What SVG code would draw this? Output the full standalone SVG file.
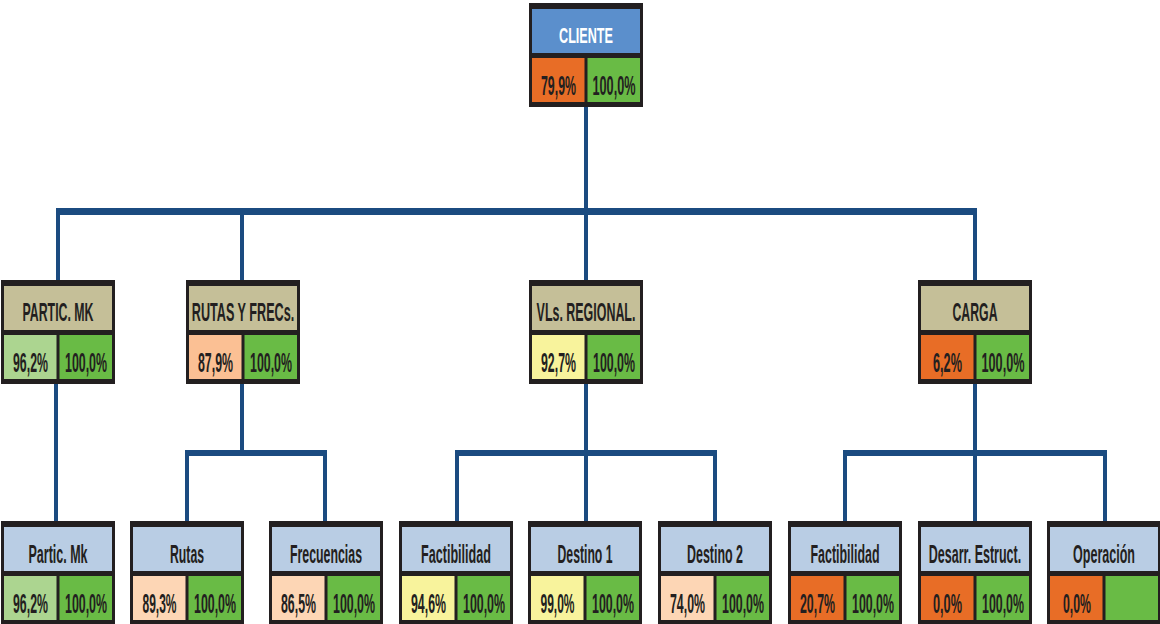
<svg xmlns="http://www.w3.org/2000/svg" width="1160" height="624" viewBox="0 0 1160 624">
<style>
.frame{fill:#231f20}
.hb{fill:#5b8fcc}
.ht{fill:#c5bf98}
.hl{fill:#b9cde4}
.o{fill:#e86d26}
.g{fill:#69bb45}
.lg{fill:#acd590}
.pe{fill:#fbc094}
.lp{fill:#fdd6b5}
.y{fill:#f8f39c}
text{font-family:"Liberation Sans",Arial,sans-serif;font-weight:bold;fill:#231f20;text-anchor:middle}
.h1{font-size:22px;fill:#ffffff}
.h{font-size:25px}
.p{font-size:27px}
.c{stroke:#1b4b80;fill:none}
.bar{stroke-width:7}
.bar2{stroke-width:6}
.v{stroke-width:4}
</style>
<rect width="1160" height="624" fill="#ffffff"/>
<g id="connectors">
<line class="c v" x1="586" y1="105" x2="586" y2="211"/>
<line class="c bar" x1="56" y1="211.5" x2="977" y2="211.5"/>
<line class="c v" x1="58" y1="211" x2="58" y2="281"/>
<line class="c v" x1="242" y1="211" x2="242" y2="281"/>
<line class="c v" x1="586" y1="211" x2="586" y2="281"/>
<line class="c v" x1="975" y1="211" x2="975" y2="281"/>
<line class="c v" x1="56" y1="382" x2="56" y2="522"/>
<line class="c v" x1="242" y1="382" x2="242" y2="453"/>
<line class="c bar2" x1="185" y1="453" x2="327" y2="453"/>
<line class="c v" x1="187" y1="453" x2="187" y2="522"/>
<line class="c v" x1="325" y1="453" x2="325" y2="522"/>
<line class="c v" x1="586" y1="382" x2="586" y2="522"/>
<line class="c bar2" x1="455" y1="453" x2="717" y2="453"/>
<line class="c v" x1="457" y1="453" x2="457" y2="522"/>
<line class="c v" x1="715" y1="453" x2="715" y2="522"/>
<line class="c v" x1="975" y1="382" x2="975" y2="522"/>
<line class="c bar2" x1="843" y1="453" x2="1107" y2="453"/>
<line class="c v" x1="845" y1="453" x2="845" y2="522"/>
<line class="c v" x1="1105" y1="453" x2="1105" y2="522"/>
</g>
<g id="cliente">
<rect class="frame" x="529" y="3" width="114" height="104"/>
<rect class="hb" x="532" y="9" width="108" height="44"/>
<rect class="o" x="532" y="58" width="52.5" height="44"/>
<rect class="g" x="587.5" y="58" width="52.5" height="44"/>
<text class="h1" transform="translate(586,43) scale(0.574,1)">CLIENTE</text>
<text class="p" transform="translate(558.5,95) scale(0.457,1)">79,9%</text>
<text class="p" transform="translate(614,95) scale(0.47,1)">100,0%</text>
</g>
<g id="partic-mk">
<rect class="frame" x="1" y="280" width="114" height="104"/>
<rect class="ht" x="4" y="286" width="108" height="44"/>
<rect class="lg" x="4" y="335" width="52.5" height="44"/>
<rect class="g" x="59.5" y="335" width="52.5" height="44"/>
<text class="h" transform="translate(58,321) scale(0.494,1)">PARTIC. MK</text>
<text class="p" transform="translate(30.5,372) scale(0.457,1)">96,2%</text>
<text class="p" transform="translate(86,372) scale(0.459,1)">100,0%</text>
</g>
<g id="rutas-frecs">
<rect class="frame" x="186" y="280" width="114" height="104"/>
<rect class="ht" x="189" y="286" width="108" height="44"/>
<rect class="pe" x="189" y="335" width="52.5" height="44"/>
<rect class="g" x="244.5" y="335" width="52.5" height="44"/>
<text class="h" transform="translate(243,321) scale(0.505,1)">RUTAS Y FRECs.</text>
<text class="p" transform="translate(215.5,372) scale(0.457,1)">87,9%</text>
<text class="p" transform="translate(271,372) scale(0.459,1)">100,0%</text>
</g>
<g id="vls-regional">
<rect class="frame" x="529" y="280" width="114" height="104"/>
<rect class="ht" x="532" y="286" width="108" height="44"/>
<rect class="y" x="532" y="335" width="52.5" height="44"/>
<rect class="g" x="587.5" y="335" width="52.5" height="44"/>
<text class="h" transform="translate(586,321) scale(0.498,1)">VLs. REGIONAL.</text>
<text class="p" transform="translate(558.5,372) scale(0.457,1)">92,7%</text>
<text class="p" transform="translate(614,372) scale(0.459,1)">100,0%</text>
</g>
<g id="carga">
<rect class="frame" x="918" y="280" width="114" height="104"/>
<rect class="ht" x="921" y="286" width="108" height="44"/>
<rect class="o" x="921" y="335" width="52.5" height="44"/>
<rect class="g" x="976.5" y="335" width="52.5" height="44"/>
<text class="h" transform="translate(975,321) scale(0.491,1)">CARGA</text>
<text class="p" transform="translate(947.5,372) scale(0.471,1)">6,2%</text>
<text class="p" transform="translate(1003,372) scale(0.47,1)">100,0%</text>
</g>
<g id="partic-mk-2">
<rect class="frame" x="1" y="521" width="114" height="104"/>
<rect class="hl" x="4" y="527" width="108" height="44"/>
<rect class="lg" x="4" y="576" width="52.5" height="44"/>
<rect class="g" x="59.5" y="576" width="52.5" height="44"/>
<text class="h" transform="translate(58,563) scale(0.5,1)">Partic. Mk</text>
<text class="p" transform="translate(30.5,613) scale(0.457,1)">96,2%</text>
<text class="p" transform="translate(86,613) scale(0.459,1)">100,0%</text>
</g>
<g id="rutas">
<rect class="frame" x="130" y="521" width="114" height="104"/>
<rect class="hl" x="133" y="527" width="108" height="44"/>
<rect class="lp" x="133" y="576" width="52.5" height="44"/>
<rect class="g" x="188.5" y="576" width="52.5" height="44"/>
<text class="h" transform="translate(187,563) scale(0.49,1)">Rutas</text>
<text class="p" transform="translate(159.5,613) scale(0.444,1)">89,3%</text>
<text class="p" transform="translate(215,613) scale(0.459,1)">100,0%</text>
</g>
<g id="frecuencias">
<rect class="frame" x="269" y="521" width="114" height="104"/>
<rect class="hl" x="272" y="527" width="108" height="44"/>
<rect class="lp" x="272" y="576" width="52.5" height="44"/>
<rect class="g" x="327.5" y="576" width="52.5" height="44"/>
<text class="h" transform="translate(326,563) scale(0.494,1)">Frecuencias</text>
<text class="p" transform="translate(298.5,613) scale(0.457,1)">86,5%</text>
<text class="p" transform="translate(354,613) scale(0.459,1)">100,0%</text>
</g>
<g id="factibilidad-vl">
<rect class="frame" x="399" y="521" width="114" height="104"/>
<rect class="hl" x="402" y="527" width="108" height="44"/>
<rect class="y" x="402" y="576" width="52.5" height="44"/>
<rect class="g" x="457.5" y="576" width="52.5" height="44"/>
<text class="h" transform="translate(456,563) scale(0.504,1)">Factibilidad</text>
<text class="p" transform="translate(428.5,613) scale(0.457,1)">94,6%</text>
<text class="p" transform="translate(484,613) scale(0.459,1)">100,0%</text>
</g>
<g id="destino-1">
<rect class="frame" x="528" y="521" width="114" height="104"/>
<rect class="hl" x="531" y="527" width="108" height="44"/>
<rect class="y" x="531" y="576" width="52.5" height="44"/>
<rect class="g" x="586.5" y="576" width="52.5" height="44"/>
<text class="h" transform="translate(585,563) scale(0.489,1)">Destino 1</text>
<text class="p" transform="translate(557.5,613) scale(0.444,1)">99,0%</text>
<text class="p" transform="translate(613,613) scale(0.459,1)">100,0%</text>
</g>
<g id="destino-2">
<rect class="frame" x="658" y="521" width="114" height="104"/>
<rect class="hl" x="661" y="527" width="108" height="44"/>
<rect class="lp" x="661" y="576" width="52.5" height="44"/>
<rect class="g" x="716.5" y="576" width="52.5" height="44"/>
<text class="h" transform="translate(715,563) scale(0.498,1)">Destino 2</text>
<text class="p" transform="translate(687.5,613) scale(0.457,1)">74,0%</text>
<text class="p" transform="translate(743,613) scale(0.459,1)">100,0%</text>
</g>
<g id="factibilidad-carga">
<rect class="frame" x="788" y="521" width="114" height="104"/>
<rect class="hl" x="791" y="527" width="108" height="44"/>
<rect class="o" x="791" y="576" width="52.5" height="44"/>
<rect class="g" x="846.5" y="576" width="52.5" height="44"/>
<text class="h" transform="translate(845,563) scale(0.497,1)">Factibilidad</text>
<text class="p" transform="translate(817.5,613) scale(0.457,1)">20,7%</text>
<text class="p" transform="translate(873,613) scale(0.459,1)">100,0%</text>
</g>
<g id="desarr-estruct">
<rect class="frame" x="918" y="521" width="114" height="104"/>
<rect class="hl" x="921" y="527" width="108" height="44"/>
<rect class="o" x="921" y="576" width="52.5" height="44"/>
<rect class="g" x="976.5" y="576" width="52.5" height="44"/>
<text class="h" transform="translate(975,563) scale(0.5,1)">Desarr. Estruct.</text>
<text class="p" transform="translate(947.5,613) scale(0.471,1)">0,0%</text>
<text class="p" transform="translate(1003,613) scale(0.459,1)">100,0%</text>
</g>
<g id="operacion">
<rect class="frame" x="1047" y="521" width="114" height="104"/>
<rect class="hl" x="1050" y="527" width="108" height="44"/>
<rect class="o" x="1050" y="576" width="52.5" height="44"/>
<rect class="g" x="1105.5" y="576" width="52.5" height="44"/>
<text class="h" transform="translate(1104,563) scale(0.501,1)">Operación</text>
<text class="p" transform="translate(1077,613) scale(0.455,1)">0,0%</text>
</g>
</svg>
